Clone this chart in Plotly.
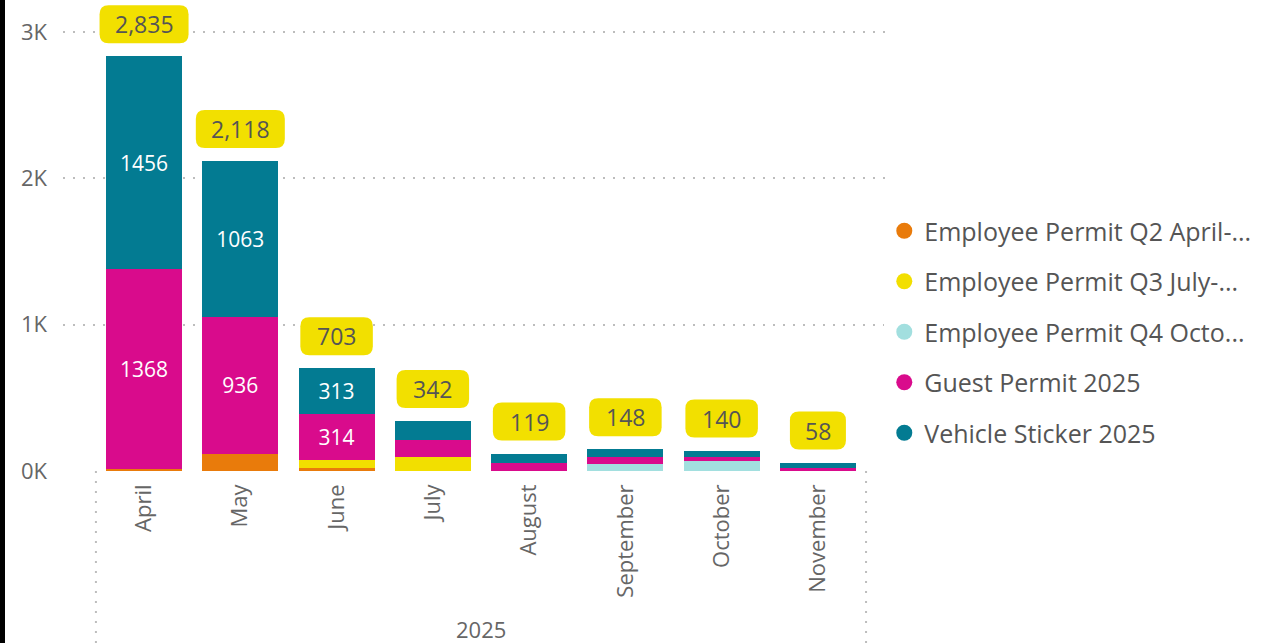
import plotly.graph_objects as go

months = ["April", "May", "June", "July", "August", "September", "October", "November"]
q2_april = [11, 119, 21, 0, 0, 0, 0, 0]
q3_july = [0, 0, 55, 98, 3, 0, 0, 0]
q4_october = [0, 0, 0, 0, 0, 50, 65, 0]
guest_2025 = [1368, 936, 314, 114, 55, 48, 32, 22]
vehicle_2025 = [1456, 1063, 313, 130, 61, 50, 43, 36]
y_tickvals = [0, 1000, 2000, 3000]
y_ticktext = ["0K", "1K", "2K", "3K"]
year_label = "2025"

series = [
    ("Employee Permit Q2 April-...", q2_april, "#E97B0B"),
    ("Employee Permit Q3 July-...", q3_july, "#F2DF00"),
    ("Employee Permit Q4 Octo...", q4_october, "#A2DFDF"),
    ("Guest Permit 2025", guest_2025, "#D90B8C"),
    ("Vehicle Sticker 2025", vehicle_2025, "#037B92"),
]

FONT = "Open Sans"
GRID = "#BDBDBD"
PW, PH = 825, 471  # plot area size in px (top margin 0)
fig = go.Figure()
xi = list(range(len(months)))
for name, vals, col in series:
    fig.add_trace(go.Bar(
        x=xi, y=vals, name=name, marker=dict(color=col, line=dict(width=0)),
        text=[str(v) if v else "" for v in vals],
        textposition="inside", insidetextanchor="middle", textangle=0,
        textfont=dict(color="white", size=21, family=FONT),
        showlegend=False, hoverinfo="y+name",
    ))
    fig.add_trace(go.Scatter(
        x=[None], y=[None], mode="markers", name=name, legendgroup=name,
        marker=dict(color=col, size=18, symbol="circle"), showlegend=True,
    ))

totals = [sum(s[1][i] for s in series) for i in range(len(months))]
shapes = []
annotations = []
for i, t in enumerate(totals):
    txt = f"{t:,}"
    nd = sum(c.isdigit() for c in txt)
    w = 16.5 * nd + 23
    x0, x1, y0, y1, r = -w / 2, w / 2, 13, 51, 9
    path = (f"M {x0+r},{y0} L {x1-r},{y0} Q {x1},{y0} {x1},{y0+r} L {x1},{y1-r} "
            f"Q {x1},{y1} {x1-r},{y1} L {x0+r},{y1} Q {x0},{y1} {x0},{y1-r} "
            f"L {x0},{y0+r} Q {x0},{y0} {x0+r},{y0} Z")
    shapes.append(dict(type="path", xref="x", yref="y", xsizemode="pixel", ysizemode="pixel",
                       xanchor=i, yanchor=t, path=path, fillcolor="#F2E000",
                       line=dict(width=0), layer="above"))
    annotations.append(dict(x=i, y=t, xref="x", yref="y", text=txt, showarrow=False,
                            yshift=32, font=dict(size=23, color="#555555", family=FONT)))

# category-box dotted lines below axis
for xv in (-0.5, len(months) - 0.5):
    shapes.append(dict(type="line", xref="x", yref="paper", x0=xv, x1=xv, y0=0, y1=-172 / PH,
                       line=dict(color=GRID, width=2, dash="2px,8px")))
# left black border
shapes.append(dict(type="rect", xref="paper", yref="paper", x0=-64 / PW, x1=-58 / PW,
                   y0=-180 / PH, y1=1.02, fillcolor="black", line=dict(width=0), layer="above"))
annotations.append(dict(x=(len(months) - 1) / 2, y=-159 / PH - 0.034, xref="x", yref="paper",
                        text=year_label, showarrow=False,
                        font=dict(size=22, color="#666666", family="Liberation Sans Narrow, Open Sans")))

fig.update_layout(
    width=1279, height=643, margin=dict(l=63, r=391, t=0, b=172, pad=0),
    paper_bgcolor="white", plot_bgcolor="white",
    barmode="stack", bargap=0.21,
    font=dict(family=FONT, color="#666666"),
    uniformtext=dict(mode="hide", minsize=21),
    shapes=shapes, annotations=annotations,
    legend=dict(x=0.9955, y=(471 - 208) / PH, xanchor="left", yanchor="top", tracegroupgap=15,
                font=dict(size=25, color="#555555", family=FONT), itemwidth=30),
    xaxis=dict(tickmode="array", tickvals=xi, ticktext=months, tickangle=-90,
               range=[-0.842, len(months) - 0.5 + 0.228], showgrid=False, zeroline=False,
               tickfont=dict(size=22, color="#666666"), ticks="", ticklabelstandoff=8,
               showline=False),
    yaxis=dict(range=[0, 3000 * 471 / 439], tickvals=y_tickvals, ticktext=y_ticktext, showgrid=True,
               gridcolor=GRID, griddash="2px,8px", gridwidth=2, zeroline=False,
               tickfont=dict(size=22, color="#666666"), ticks="", ticklabelstandoff=15),
)
fig.write_html("out.html", config={"displayModeBar": False},
               post_script="document.body.style.margin='0';")
